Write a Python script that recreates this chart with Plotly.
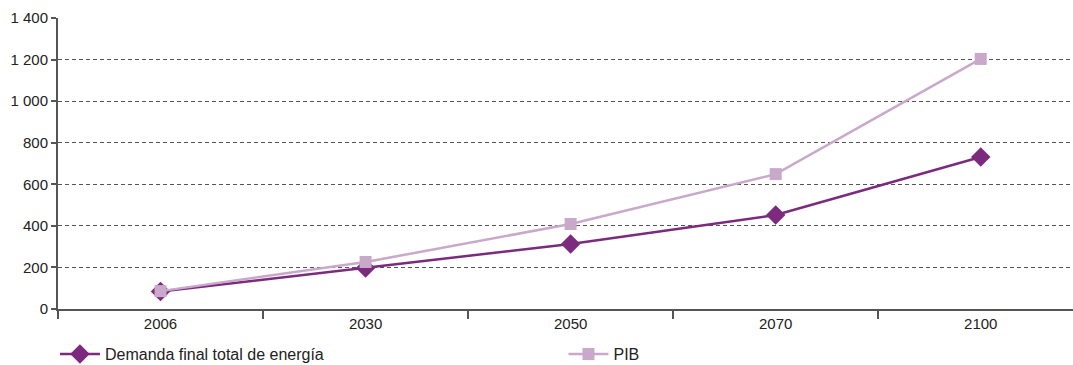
import plotly.graph_objects as go

years = ["2006", "2030", "2050", "2070", "2100"]
demanda = [84, 197, 313, 452, 731]
pib = [86, 226, 409, 649, 1203]
ytick_vals = [0, 200, 400, 600, 800, 1000, 1200, 1400]
ytick_text = ["0", "200", "400", "600", "800", "1 000", "1 200", "1 400"]

fig = go.Figure()
fig.add_trace(go.Scatter(
    x=years, y=demanda, name="Demanda final total de energía",
    mode="lines+markers",
    line=dict(color="#7B2A7E", width=2.5),
    marker=dict(symbol="diamond", size=15, color="#7B2A7E"),
    legend="legend",
))
fig.add_trace(go.Scatter(
    x=years, y=pib, name="PIB",
    mode="lines+markers",
    line=dict(color="#C9A9C9", width=2.5),
    marker=dict(symbol="square", size=12, color="#C9A9C9"),
    legend="legend2",
))

fig.update_layout(
    width=1073, height=365,
    margin=dict(l=58, r=0, t=18, b=56, autoexpand=False),
    paper_bgcolor="white", plot_bgcolor="white",
    font=dict(family="Liberation Sans, Arial, sans-serif", size=15, color="#222"),
    showlegend=True,
    legend=dict(orientation="h", x=-0.003, xanchor="left", y=-0.155, yanchor="middle",
                font=dict(size=16), bgcolor="rgba(0,0,0,0)", itemwidth=40),
    legend2=dict(orientation="h", x=0.498, xanchor="left", y=-0.155, yanchor="middle",
                 font=dict(size=16), bgcolor="rgba(0,0,0,0)", itemwidth=40),
)
fig.update_xaxes(
    type="category", range=[-0.5, 4.45], automargin=False,
    showline=True, linecolor="#555", linewidth=2,
    ticks="outside", tickson="boundaries", ticklen=8, tickcolor="#555", tickwidth=1.5,
    showgrid=False, zeroline=False, tickfont=dict(size=15),
)
fig.update_yaxes(
    range=[0, 1400], tickvals=ytick_vals, ticktext=ytick_text, automargin=False,
    showline=True, linecolor="#555", linewidth=2,
    ticks="outside", ticklen=5, tickcolor="#555", tickwidth=1.5,
    showgrid=True, gridcolor="#555", griddash="4px,3px", gridwidth=1,
    zeroline=False, tickfont=dict(size=15),
)
fig.write_html("out.html", config={"displayModeBar": False},
               post_script="document.body.style.margin='0';")
